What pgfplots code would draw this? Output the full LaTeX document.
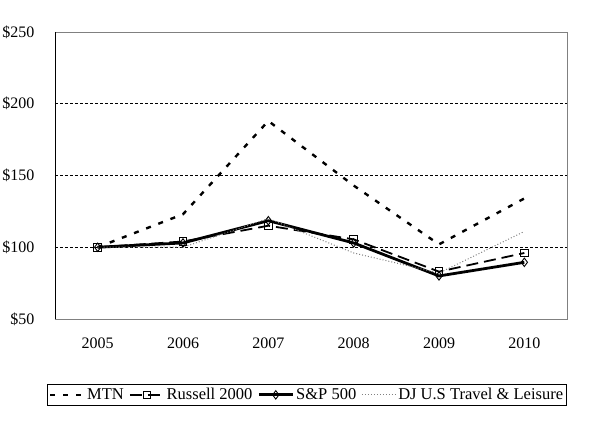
\documentclass[border=0pt]{standalone}
\usepackage{pgfplots}
\pgfplotsset{compat=1.18}
\usepackage{fontspec}
\setmainfont{Liberation Serif}
\begin{document}
\fontsize{16.5}{20}\selectfont
\begin{tikzpicture}[x=1pt,y=1pt]
\useasboundingbox (-55pt,-111pt) rectangle (539pt,319pt);
\begin{axis}[
  scale only axis, width=512pt, height=287pt,
  xmin=2004.5, xmax=2010.5, ymin=50, ymax=250,
  xtick={2005,2006,2007,2008,2009,2010},
  xticklabels={2005,2006,2007,2008,2009,2010},
  ytick={50,100,150,200,250},
  yticklabels={\$50,\$100,\$150,\$200,\$250},
  major tick length=0pt,
  ymajorgrids, grid style={black, dash pattern=on 3pt off 2pt, line width=0.6pt},
  axis line style={draw=gray, line width=0.8pt},
  tick label style={font=\fontsize{16}{20}\selectfont},
  /pgf/number format/assume math mode=true,
  yticklabel style={xshift=-15pt},
  xticklabel style={yshift=-13pt},
  legend columns=4,
  legend style={at={(1,-0.2265)}, anchor=north east, draw=black, line width=0.8pt,
    font=\fontsize{16.5}{20}\selectfont, inner sep=1.5pt,
    /tikz/every even column/.append style={column sep=3pt}},
  legend cell align=left,
  legend image code/.code={\draw[mark repeat=2,mark phase=2,#1] plot coordinates {(0pt,0pt) (17pt,0pt) (34pt,0pt)};},
]
\draw[black, line width=0.8pt] (rel axis cs:0,1) -- (rel axis cs:0,0) -- (rel axis cs:1,0);
\addplot[black, line width=2.4pt, dash pattern=on 5pt off 8pt] coordinates {
 (2005,100) (2006,123) (2007,188) (2008,143) (2009,102) (2010,134)};
\addlegendentry{MTN}
\addplot[black, line width=1.8pt, dash pattern=on 12pt off 6pt, mark=square, mark size=3.8pt, mark options={solid, line width=0.9pt, fill=white}] coordinates {
 (2005,100) (2006,104) (2007,115) (2008,105.5) (2009,83) (2010,96)};
\addlegendentry{Russell 2000}
\addplot[black, line width=2.8pt, mark=diamond, mark size=4.2pt, mark options={solid, line width=0.9pt, fill=white}] coordinates {
 (2005,100) (2006,103) (2007,118.5) (2008,103) (2009,80) (2010,89.5)};
\addlegendentry{S\&P 500}
\addplot[gray, line width=1.0pt, dotted] coordinates {
 (2005,100) (2006,100) (2007,120) (2008,96) (2009,82) (2010,111)};
\addlegendentry{DJ U.S Travel \& Leisure}
\end{axis}
\end{tikzpicture}
\end{document}
